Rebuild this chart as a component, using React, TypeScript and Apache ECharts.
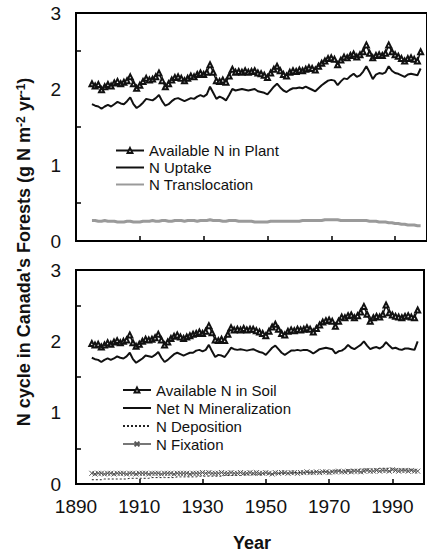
import React, { useEffect, useRef } from "react";
import * as echarts from "echarts";

const firstYear = 1895;
const xTicks = [1890, 1910, 1930, 1950, 1970, 1990];

// Top panel
const availPlant = [
  2.07, 2.04, 2.06, 1.99, 2.03, 2.06, 2.04, 2.08, 2.10, 2.07,
  2.09, 2.11, 2.16, 2.07, 2.01, 2.05, 2.10, 2.14, 2.12, 2.13,
  2.16, 2.21, 2.11, 2.03, 2.07, 2.12, 2.15, 2.16, 2.14, 2.11,
  2.14, 2.17, 2.16, 2.19, 2.21, 2.19, 2.22, 2.32, 2.22, 2.11,
  2.10, 2.12, 2.09, 2.17, 2.26, 2.22, 2.23, 2.22, 2.24, 2.22,
  2.23, 2.24, 2.21, 2.20, 2.18, 2.15, 2.21, 2.26, 2.30, 2.24,
  2.19, 2.17, 2.22, 2.24, 2.23, 2.25, 2.24, 2.26, 2.28, 2.27,
  2.25, 2.30, 2.34, 2.37, 2.40, 2.41, 2.39, 2.32, 2.38, 2.42,
  2.41, 2.44, 2.46, 2.42, 2.45, 2.49, 2.58, 2.47, 2.41, 2.44,
  2.45, 2.44, 2.47, 2.58, 2.49, 2.45, 2.43, 2.40, 2.37, 2.40,
  2.41, 2.39, 2.37, 2.49,
];
const uptake = [
  1.80, 1.78, 1.77, 1.74, 1.77, 1.79, 1.77, 1.80, 1.83, 1.81,
  1.80, 1.84, 1.89, 1.80, 1.75, 1.78, 1.82, 1.87, 1.86, 1.85,
  1.88, 1.92, 1.84, 1.78, 1.80, 1.84, 1.87, 1.88, 1.86, 1.84,
  1.86, 1.88, 1.87, 1.90, 1.92, 1.90, 1.93, 2.03, 1.95, 1.87,
  1.90, 1.88, 1.85, 1.92, 2.00, 1.98, 1.99, 2.00, 1.99, 1.98,
  1.99, 2.00, 1.97, 1.96, 1.95, 1.93, 1.98, 2.03, 2.07, 2.02,
  1.98, 1.96, 1.99, 2.01, 2.01, 2.02, 2.01, 2.03, 2.01, 1.99,
  1.97, 2.01, 2.05, 2.08, 2.11, 2.12, 2.11, 2.05, 2.10, 2.14,
  2.13, 2.17, 2.20, 2.16, 2.18, 2.23, 2.30, 2.22, 2.13, 2.19,
  2.21, 2.20, 2.22, 2.30, 2.24, 2.21, 2.20, 2.18, 2.16, 2.19,
  2.20, 2.19, 2.18, 2.27,
];
const translocation = [
  0.27, 0.27, 0.26, 0.26, 0.27, 0.26, 0.26, 0.26, 0.25, 0.25,
  0.25, 0.26, 0.26, 0.25, 0.25, 0.25, 0.26, 0.26, 0.26, 0.27,
  0.26, 0.26, 0.27, 0.27, 0.26, 0.26, 0.27, 0.27, 0.27, 0.26,
  0.27, 0.27, 0.27, 0.26, 0.27, 0.27, 0.27, 0.28, 0.27, 0.27,
  0.27, 0.26, 0.26, 0.27, 0.27, 0.27, 0.26, 0.26, 0.26, 0.26,
  0.26, 0.25, 0.25, 0.25, 0.25, 0.25, 0.26, 0.26, 0.26, 0.26,
  0.26, 0.26, 0.26, 0.26, 0.26, 0.26, 0.27, 0.27, 0.27, 0.27,
  0.27, 0.27, 0.27, 0.28, 0.28, 0.28, 0.28, 0.28, 0.27, 0.27,
  0.27, 0.27, 0.27, 0.27, 0.27, 0.27, 0.27, 0.26, 0.26, 0.26,
  0.25, 0.25, 0.25, 0.24, 0.24, 0.23, 0.23, 0.22, 0.22, 0.21,
  0.21, 0.21, 0.20, 0.20,
];

// Bottom panel
const availSoil = [
  1.97, 1.95, 1.96, 1.92, 1.95, 1.98, 1.96, 1.99, 2.01, 1.98,
  2.00, 2.02, 2.09, 1.98, 1.93, 1.96, 2.00, 2.03, 2.02, 2.03,
  2.05, 2.10, 2.02, 1.95, 1.99, 2.04, 2.07, 2.09, 2.06, 2.04,
  2.06, 2.08, 2.10, 2.11, 2.13, 2.11, 2.14, 2.22, 2.12, 2.02,
  2.01, 2.03, 2.01, 2.10, 2.19, 2.16, 2.17, 2.16, 2.18, 2.16,
  2.17, 2.17, 2.15, 2.13, 2.11, 2.08, 2.14, 2.20, 2.24, 2.17,
  2.11, 2.09, 2.14, 2.16, 2.15, 2.17, 2.16, 2.17, 2.19, 2.17,
  2.13, 2.18, 2.23, 2.27, 2.29, 2.30, 2.28, 2.21, 2.28, 2.34,
  2.33, 2.36, 2.37, 2.33, 2.36, 2.41, 2.49, 2.38, 2.28, 2.33,
  2.35, 2.34, 2.38, 2.51, 2.40, 2.37, 2.35, 2.34, 2.33, 2.35,
  2.36, 2.34, 2.33, 2.44,
];
const netMin = [
  1.77, 1.75, 1.74, 1.71, 1.74, 1.76, 1.74, 1.76, 1.79, 1.77,
  1.76, 1.79, 1.84, 1.75, 1.70, 1.73, 1.76, 1.80, 1.79, 1.78,
  1.81, 1.85, 1.77, 1.71, 1.74, 1.78, 1.82, 1.84, 1.82, 1.80,
  1.82, 1.84, 1.84, 1.87, 1.88, 1.86, 1.88, 1.95, 1.86, 1.78,
  1.81, 1.80, 1.78, 1.84, 1.91, 1.89, 1.88, 1.89, 1.88, 1.87,
  1.88, 1.89, 1.87, 1.85, 1.84, 1.81, 1.86, 1.91, 1.94, 1.89,
  1.84, 1.81, 1.84, 1.87, 1.87, 1.88, 1.87, 1.88, 1.88, 1.86,
  1.83, 1.86, 1.89, 1.90, 1.91, 1.90, 1.89, 1.83, 1.86, 1.87,
  1.90, 1.95, 1.91, 1.89, 1.92, 1.95, 2.00, 1.94, 1.89, 1.91,
  1.92, 1.90, 1.93, 1.99, 1.94, 1.90, 1.91, 1.89, 1.88, 1.90,
  1.90, 1.89, 1.88, 2.00,
];
const deposition = [
  0.06, 0.06, 0.06, 0.06, 0.07, 0.07, 0.07, 0.07, 0.07, 0.07,
  0.07, 0.07, 0.08, 0.08, 0.08, 0.08, 0.08, 0.08, 0.08, 0.09,
  0.09, 0.09, 0.09, 0.09, 0.09, 0.09, 0.09, 0.10, 0.10, 0.10,
  0.10, 0.10, 0.10, 0.10, 0.11, 0.11, 0.11, 0.11, 0.11, 0.11,
  0.11, 0.11, 0.12, 0.12, 0.12, 0.12, 0.12, 0.12, 0.13, 0.13,
  0.13, 0.13, 0.13, 0.13, 0.14, 0.14, 0.14, 0.14, 0.14, 0.15,
  0.15, 0.15, 0.15, 0.15, 0.16, 0.16, 0.16, 0.16, 0.16, 0.17,
  0.17, 0.17, 0.17, 0.18, 0.18, 0.18, 0.18, 0.19, 0.19, 0.19,
  0.19, 0.20, 0.20, 0.20, 0.20, 0.21, 0.21, 0.21, 0.21, 0.21,
  0.21, 0.22, 0.22, 0.22, 0.22, 0.22, 0.21, 0.21, 0.21, 0.21,
  0.21, 0.20, 0.20, 0.20,
];
const fixation = [
  0.15, 0.14, 0.15, 0.15, 0.14, 0.15, 0.15, 0.14, 0.15, 0.15,
  0.15, 0.14, 0.15, 0.15, 0.14, 0.15, 0.15, 0.15, 0.14, 0.15,
  0.15, 0.15, 0.14, 0.15, 0.15, 0.15, 0.14, 0.15, 0.15, 0.15,
  0.15, 0.14, 0.15, 0.15, 0.15, 0.16, 0.15, 0.16, 0.15, 0.15,
  0.15, 0.16, 0.15, 0.15, 0.16, 0.15, 0.15, 0.16, 0.15, 0.15,
  0.16, 0.15, 0.16, 0.15, 0.15, 0.16, 0.15, 0.14, 0.16, 0.15,
  0.16, 0.16, 0.15, 0.16, 0.16, 0.15, 0.16, 0.16, 0.17, 0.16,
  0.16, 0.17, 0.16, 0.17, 0.17, 0.16, 0.17, 0.17, 0.18, 0.17,
  0.17, 0.18, 0.17, 0.18, 0.18, 0.17, 0.18, 0.19, 0.18, 0.18,
  0.19, 0.18, 0.19, 0.19, 0.18, 0.20, 0.19, 0.18, 0.19, 0.19,
  0.18, 0.19, 0.18, 0.18,
];

const pairs = (vals: number[]) => vals.map((v, i) => [firstYear + i, v]);

const FONT = "Liberation Sans, Arial, Helvetica, sans-serif";
const xMark = "path://M0,0L10,10M10,0L0,10";
const noSymbol = { itemStyle: { opacity: 0 } };

export default function App() {
  const ref = useRef<HTMLDivElement>(null);
  useEffect(() => {
    if (!ref.current) return;
    const chart = echarts.init(ref.current, null, { renderer: "svg" });
    const axisLine = { lineStyle: { color: "#000", width: 2 } };
    const xAxisBase = {
      type: "value",
      min: 1890,
      max: 2000,
      interval: 20,
      axisLine,
      axisTick: { inside: true, length: 5, lineStyle: { color: "#000", width: 1.5 } },
      splitLine: { show: false },
    };
    const yAxisBase = {
      type: "value",
      min: 0,
      max: 3,
      interval: 1,
      axisLine: { show: true, ...axisLine },
      axisTick: { show: false, inside: true },
      minorTick: { show: true, splitNumber: 2, length: 5, lineStyle: { color: "#000", width: 1.5 } },
      splitLine: { show: false },
      minorSplitLine: { show: false },
      axisLabel: { fontSize: 19, color: "#111", fontFamily: FONT, margin: 15 },
    };
    const legendBase = {
      orient: "vertical",
      itemWidth: 28,
      itemHeight: 6,
      itemGap: 0,
      padding: 0,
      selectedMode: false,
      textStyle: { fontSize: 15, color: "#111", fontFamily: FONT, lineHeight: 17 },
    };
    chart.setOption({
      animation: false,
      backgroundColor: "#fff",
      grid: [
        { left: 76, top: 13, width: 353, height: 228, show: true, borderColor: "#000", borderWidth: 2 },
        { left: 76, top: 270, width: 353, height: 214, show: true, borderColor: "#000", borderWidth: 2 },
      ],
      xAxis: [
        { ...xAxisBase, gridIndex: 0, axisLabel: { show: false } },
        {
          ...xAxisBase,
          gridIndex: 1,
          axisLabel: {
            fontSize: 19,
            color: "#111",
            fontFamily: FONT,
            margin: 13,
            formatter: (v: number) => (xTicks.includes(v) ? String(v) : ""),
          },
        },
      ],
      yAxis: [
        { ...yAxisBase, gridIndex: 0 },
        { ...yAxisBase, gridIndex: 1 },
      ],
      legend: [
        {
          ...legendBase,
          left: 115,
          top: 142,
          data: [
            { name: "Available N in Plant" },
            { name: "N Uptake", ...noSymbol },
            { name: "N Translocation", ...noSymbol },
          ],
        },
        {
          ...legendBase,
          left: 122,
          top: 381,
          textStyle: { ...legendBase.textStyle, lineHeight: 18 },
          data: [
            { name: "Available N in Soil" },
            { name: "Net N Mineralization", ...noSymbol },
            { name: "N Deposition", ...noSymbol },
            { name: "N Fixation" },
          ],
        },
      ],
      series: [
        {
          name: "N Translocation",
          type: "line",
          xAxisIndex: 0,
          yAxisIndex: 0,
          data: pairs(translocation),
          symbol: "none",
          lineStyle: { color: "#9a9a9a", width: 3 },
          itemStyle: { color: "#9a9a9a" },
        },
        {
          name: "N Uptake",
          type: "line",
          xAxisIndex: 0,
          yAxisIndex: 0,
          data: pairs(uptake),
          symbol: "none",
          lineStyle: { color: "#111", width: 2 },
          itemStyle: { color: "#111" },
        },
        {
          name: "Available N in Plant",
          type: "line",
          xAxisIndex: 0,
          yAxisIndex: 0,
          data: pairs(availPlant),
          symbol: "emptyTriangle",
          symbolSize: 5,
          lineStyle: { color: "#111", width: 1.5 },
          itemStyle: { color: "#111", borderColor: "#111", borderWidth: 1 },
        },
        {
          name: "N Fixation",
          type: "line",
          xAxisIndex: 1,
          yAxisIndex: 1,
          data: pairs(fixation),
          symbol: xMark,
          symbolSize: 5,
          lineStyle: { color: "#777", width: 1 },
          itemStyle: { color: "transparent", borderColor: "#555", borderWidth: 1 },
        },
        {
          name: "N Deposition",
          type: "line",
          xAxisIndex: 1,
          yAxisIndex: 1,
          data: pairs(deposition),
          symbol: "none",
          lineStyle: { color: "#222", width: 1, type: [2, 2] },
          itemStyle: { color: "#222" },
        },
        {
          name: "Net N Mineralization",
          type: "line",
          xAxisIndex: 1,
          yAxisIndex: 1,
          data: pairs(netMin),
          symbol: "none",
          lineStyle: { color: "#111", width: 2 },
          itemStyle: { color: "#111" },
        },
        {
          name: "Available N in Soil",
          type: "line",
          xAxisIndex: 1,
          yAxisIndex: 1,
          data: pairs(availSoil),
          symbol: "emptyTriangle",
          symbolSize: 5,
          lineStyle: { color: "#111", width: 1.5 },
          itemStyle: { color: "#111", borderColor: "#111", borderWidth: 1 },
        },
      ],
      graphic: [
        {
          type: "text",
          x: 24,
          y: 252,
          rotation: Math.PI / 2,
          style: {
            text: "{a|N cycle in Canada's Forests (g N m}{s|-2}{a| yr}{s|-1}{a|)}",
            align: "center",
            verticalAlign: "middle",
            rich: {
              a: { fontSize: 18, fontWeight: "bold", fontFamily: FONT, fill: "#111" },
              s: { fontSize: 12, fontWeight: "bold", fontFamily: FONT, fill: "#111", verticalAlign: "top" },
            },
          },
        },
        {
          type: "text",
          x: 252,
          y: 543,
          style: {
            text: "Year",
            align: "center",
            verticalAlign: "middle",
            fontSize: 18,
            fontWeight: "bold",
            fontFamily: FONT,
            fill: "#111",
          },
        },
      ],
    });
    return () => chart.dispose();
  }, []);
  return <div ref={ref} style={{ position: "fixed", left: 0, top: 0, width: 427, height: 555 }} />;
}
